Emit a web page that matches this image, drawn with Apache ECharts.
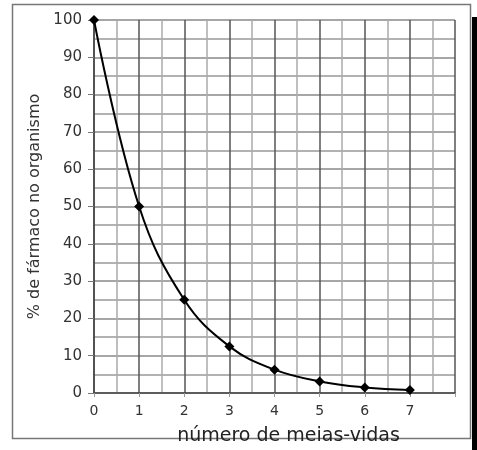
<!DOCTYPE html>
<html><head><meta charset="utf-8">
<script src="https://cdn.jsdelivr.net/npm/echarts@6/dist/echarts.min.js"></script>
<style>html,body{margin:0;padding:0;background:#fff}#c{width:477px;height:450px}</style>
</head><body><div id="c"></div>
<script>
const halfLives = [0, 1, 2, 3, 4, 5, 6, 7];
const percentDrug = [100, 50, 25, 12.5, 6.25, 3.1, 1.5, 0.8];
const xTitle = 'número de meias-vidas';
const yTitle = '% de fármaco no organismo';

const chart = echarts.init(document.getElementById('c'));
const font = 'DejaVu Sans, sans-serif';
chart.setOption({
  animation: false,
  backgroundColor: '#fff',
  grid: {left: 94, right: 22, top: 20, bottom: 57, containLabel: false, outerBoundsMode: 'none'},
  graphic: [
    {type: 'rect', shape: {x: 12.5, y: 4.5, width: 458, height: 434}, style: {fill: 'none', stroke: '#777', lineWidth: 1.5}, z: -1},
    {type: 'rect', shape: {x: 472, y: 17, width: 5, height: 433}, style: {fill: '#000'}, z: -1}
  ],
  xAxis: {
    type: 'value', min: 0, max: 8, interval: 1,
    name: xTitle, nameLocation: 'middle', nameGap: 34,
    nameTextStyle: {fontFamily: font, fontSize: 19, color: '#222', padding: [0, 0, 0, 28]},
    axisLine: {show: true, lineStyle: {color: '#444', width: 1.5}},
    axisTick: {show: true, length: 4, lineStyle: {color: '#999'}},
    axisLabel: {fontFamily: font, fontSize: 14, color: '#333', margin: 11,
      formatter: v => v === 8 ? '' : String(v)},
    splitLine: {show: true, lineStyle: {color: '#555', width: 1.5}},
    minorTick: {show: false, splitNumber: 2},
    minorSplitLine: {show: true, lineStyle: {color: '#aaa', width: 1.5}}
  },
  yAxis: {
    type: 'value', min: 0, max: 100, interval: 10,
    name: yTitle, nameLocation: 'middle', nameGap: 51,
    nameTextStyle: {fontFamily: font, fontSize: 16, color: '#333'},
    axisLine: {show: true, lineStyle: {color: '#444', width: 1.5}},
    axisTick: {show: true, length: 6, lineStyle: {color: '#777'}},
    axisLabel: {fontFamily: font, fontSize: 15, color: '#333', margin: 12},
    splitLine: {show: true, lineStyle: {color: '#888', width: 1.5}},
    minorTick: {show: false, splitNumber: 2},
    minorSplitLine: {show: true, lineStyle: {color: '#999', width: 1.5}}
  },
  series: [{
    type: 'line', smooth: 0.4,
    data: halfLives.map((x, i) => [x, percentDrug[i]]),
    symbol: 'diamond', symbolSize: 10,
    itemStyle: {color: '#000'},
    lineStyle: {color: '#000', width: 2}
  }]
});
</script></body></html>
